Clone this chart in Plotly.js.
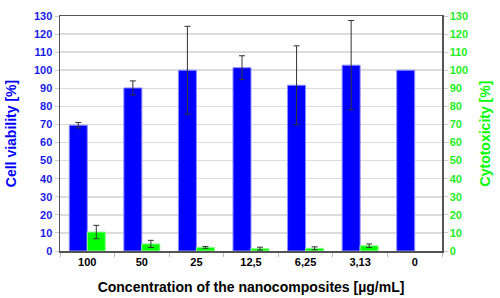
<!DOCTYPE html>
<html>
<head>
<meta charset="utf-8">
<script src="https://cdn.plot.ly/plotly-3.0.1.min.js"></script>
<style>html,body{margin:0;padding:0;background:#fff}#chart{width:500px;height:298px}</style>
</head>
<body>
<div id="chart"></div>
<script>
const categories = ["100", "50", "25", "12,5", "6,25", "3,13", "0"];
const viability = [69.6, 90.2, 100.0, 101.4, 91.7, 102.8, 100.0];
const viabilityErr = [1.5, 3.9, 24.3, 6.6, 21.8, 24.7, NaN];
const cytotoxicity = [10.5, 3.9, 2.0, 1.3, 1.5, 2.9, null];
const cytotoxicityErr = [3.7, 2.0, 0.5, 0.8, 0.8, 1.0, NaN];
const yTicks = [0,10,20,30,40,50,60,70,80,90,100,110,120,130];

const fontFam = 'Liberation Sans, Arial, sans-serif';
const blue = '#0000ff';
const green = '#00ff00';
const blueText = '#1a1ae6';
const greenText = '#22ee22';

const traces = [
  {
    type: 'bar', x: categories, y: viability, yaxis: 'y', offsetgroup: '1',
    marker: {color: blue, line: {color: '#8c8cff', width: 1}},
    error_y: {type: 'data', array: viabilityErr, visible: true, color: '#333333', thickness: 1, width: 3},
    hoverinfo: 'skip'
  },
  {
    type: 'bar', x: categories, y: cytotoxicity, yaxis: 'y2', offsetgroup: '2',
    marker: {color: green, line: {color: '#8cff8c', width: 1}},
    error_y: {type: 'data', array: cytotoxicityErr, visible: true, color: '#333333', thickness: 1, width: 3},
    hoverinfo: 'skip'
  }
];

const layout = {
  width: 500, height: 298,
  margin: {l: 60, r: 58, t: 16, b: 47, pad: 0},
  paper_bgcolor: '#fff', plot_bgcolor: '#fff',
  showlegend: false,
  barmode: 'group', bargap: 0.34, bargroupgap: 0,
  font: {family: fontFam},
  xaxis: {
    type: 'category', showline: true, linecolor: '#555', linewidth: 1.5, mirror: true,
    ticks: 'outside', tickson: 'boundaries', ticklen: 4, tickcolor: '#bbb', tickwidth: 1,
    tickfont: {size: 11, color: '#000', weight: 'bold', family: fontFam},
    showgrid: false, zeroline: false,
    title: {text: 'Concentration of the nanocomposites [µg/mL]', font: {size: 14, color: '#000', weight: 'bold', family: fontFam}, standoff: 15}
  },
  yaxis: {
    range: [0, 130], tickvals: yTicks, showline: true, linecolor: '#555', linewidth: 1.5,
    ticks: 'outside', ticklen: 4, tickcolor: '#ccc', tickwidth: 1,
    showgrid: true, gridcolor: '#dcdcdc', gridwidth: 1.5, zeroline: false,
    tickfont: {size: 11, color: blueText, weight: 'bold', family: fontFam},
    title: {text: 'Cell viability [%]', font: {size: 14, color: blue, weight: 'bold', family: fontFam}, standoff: 14}
  },
  yaxis2: {
    range: [0, 130], tickvals: yTicks, overlaying: 'y', side: 'right',
    showline: true, linecolor: '#555', linewidth: 1.5,
    ticks: 'outside', ticklen: 4, tickcolor: '#ccc', tickwidth: 1,
    showgrid: false, zeroline: false,
    tickfont: {size: 11, color: greenText, weight: 'bold', family: fontFam},
    title: {text: 'Cytotoxicity [%]', font: {size: 14, color: green, weight: 'bold', family: fontFam}, standoff: 13}
  }
};

Plotly.newPlot('chart', traces, layout, {staticPlot: true, displayModeBar: false});
</script>
</body>
</html>
